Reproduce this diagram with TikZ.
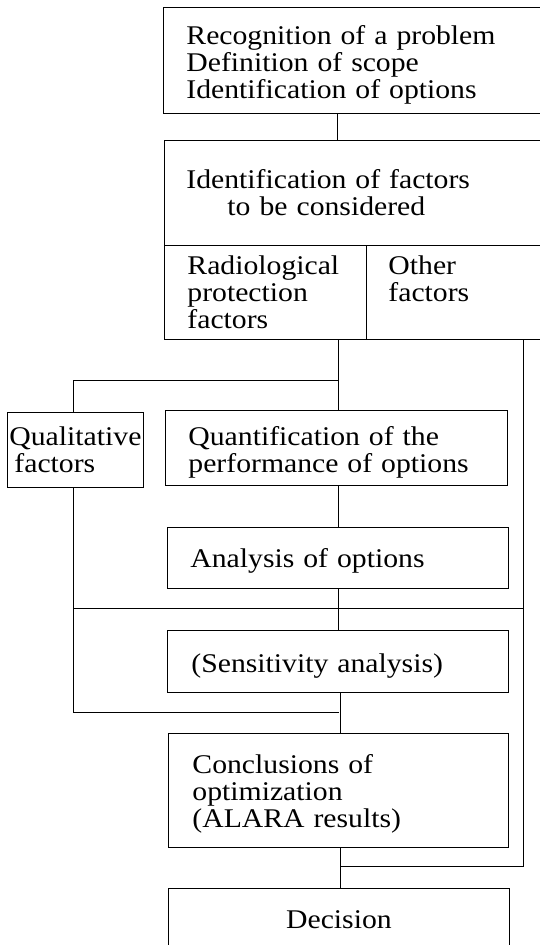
\documentclass[tikz,border=0pt]{standalone}
\usepackage{fontspec}
\setmainfont{Liberation Serif}[FakeStretch=1.1]
\newcommand{\tstrut}[1]{\rule{0pt}{#1pt}}
\begin{document}
\begin{tikzpicture}[x=1pt,y=-1pt,
  box/.style={draw, line width=0.9pt, inner sep=0pt, anchor=north west, align=left,
              font=\fontsize{27}{27}\selectfont},
  link/.style={line width=0.9pt}]
\useasboundingbox (0,0) rectangle (540,945);
\clip (0,0) rectangle (540,945);
% boxes
\node[box, minimum width=383pt, minimum height=106pt, text width=337pt] (b1) at (163,7)
  {\tstrut{27}Recognition of a problem\\Definition of scope\\Identification of options};
\node[box, minimum width=382pt, minimum height=105pt, text width=338pt] (b2) at (164,140)
  {Identification of factors\\\hspace*{41pt}to be considered};
\node[box, minimum width=202pt, minimum height=94pt, text width=156pt] (rp) at (164,245)
  {Radiological\\protection\\factors};
\node[box, minimum width=180pt, minimum height=94pt, text width=136pt] (of) at (366,245)
  {Other\\factors\\\mbox{}};
\node[box, minimum width=136pt, minimum height=75pt, text width=132pt] (ql) at (7,412)
  {Qualitative\\\hspace*{5pt}factors};
\node[box, minimum width=342pt, minimum height=75pt, text width=296pt] (qt) at (165,410)
  {\tstrut{28}Quantification of the\\performance of options};
\node[box, minimum width=341pt, minimum height=61pt, text width=295pt] (an) at (167,527)
  {\tstrut{25}Analysis of options};
\node[box, minimum width=341pt, minimum height=62pt, text width=293pt] (se) at (167,630)
  {\tstrut{28}(Sensitivity analysis)};
\node[box, minimum width=340pt, minimum height=114pt, text width=292pt] (co) at (168,733)
  {\tstrut{25}Conclusions of\\optimization\\(ALARA results)};
\node[box, minimum width=341pt, minimum height=62pt, text width=300pt, align=center] (de) at (168,888)
  {Decision};
% reference coordinates for connector lines
\coordinate (sA) at (337,0);
\coordinate (sB) at (338,0);
\coordinate (sC) at (340,0);
\coordinate (L) at (73.5,0);
\coordinate (R) at (523,0);
\coordinate (j1) at (338,380);
\coordinate (j2) at (338,608);
\coordinate (j3) at (339,712);
\coordinate (j4) at (340,866);
% connectors
\draw[link] (b1.south -| sA) -- (b2.north -| sA);
\draw[link] (rp.south -| sB) -- (qt.north -| sB);
\draw[link] (j1) -| (ql.north -| L);
\draw[link] (qt.south -| sB) -- (an.north -| sB);
\draw[link] (an.south -| sB) -- (se.north -| sB);
\draw[link] (L |- j2) -- (R |- j2);
\draw[link] (ql.south -| L) |- (j3);
\draw[link] (of.south -| R) |- (j4);
\draw[link] (se.south -| sC) -- (co.north -| sC);
\draw[link] (co.south -| sC) -- (de.north -| sC);
\end{tikzpicture}
\end{document}
